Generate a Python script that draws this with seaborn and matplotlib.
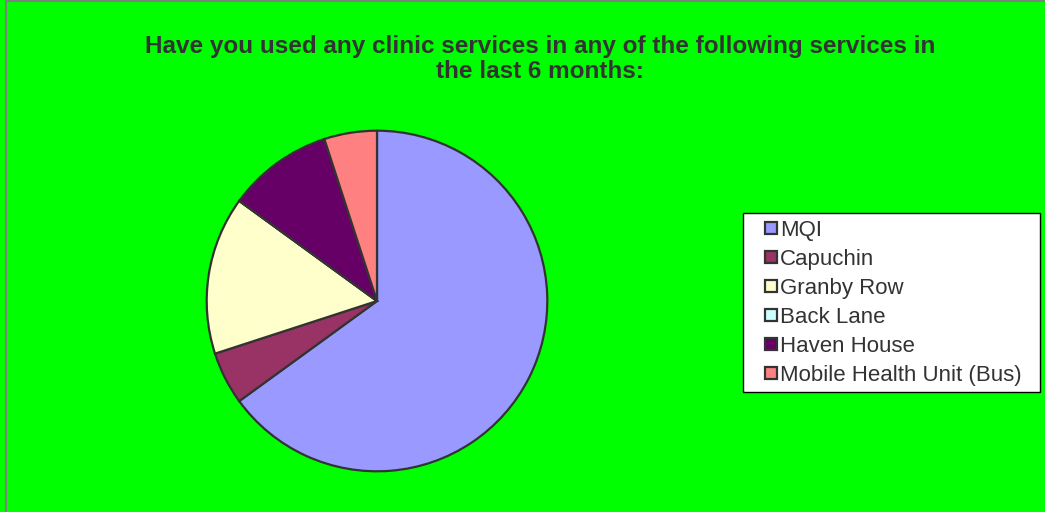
import matplotlib.pyplot as plt
import seaborn as sns
from matplotlib.lines import Line2D
from matplotlib.patches import Rectangle

# data
services = ["MQI", "Capuchin", "Granby Row", "Back Lane", "Haven House", "Mobile Health Unit (Bus)"]
shares = [65, 5, 15, 0, 10, 5]
colors = ["#9999FF", "#993366", "#FFFFCC", "#CCFFFF", "#660066", "#FF8080"]

sns.set_theme(style="white")
plt.rcParams['font.family'] = ['Liberation Sans', 'DejaVu Sans']

fig = plt.figure(figsize=(10.45, 5.12), dpi=100, facecolor="#00FF00")
# frame line on left / top edges
fig.patches.append(Rectangle((6 / 1045, -0.01), 1.1, 1.0 - 1 / 512 + 0.01, transform=fig.transFigure,
                             fill=False, edgecolor="#808080", linewidth=1.5, zorder=0))

ax = fig.add_axes([205 / 1045, 39 / 512, 344 / 1045, 344 / 512])
ax.set_facecolor("none")
ax.pie(shares, colors=sns.color_palette(colors), startangle=90, counterclock=False,
       wedgeprops=dict(edgecolor="#333333", linewidth=1.6))
ax.set_xlim(-1.01, 1.01)
ax.set_ylim(-1.01, 1.01)
ax.set_aspect("equal")
ax.axis("off")

fig.text(540 / 1045, 1 - 59 / 512,
         "Have you used any clinic services in any of the following services in\nthe last 6 months:",
         ha="center", va="center", fontsize=17.5, fontweight="bold", color="#333333", linespacing=1.15)

handles = [Line2D([], [], linestyle="none", marker="s", markersize=8.5, markerfacecolor=c,
                  markeredgecolor="#333333", markeredgewidth=1.6) for c in colors]
leg = fig.legend(handles, services, loc="upper left", mode="expand",
                 bbox_to_anchor=(743 / 1045, 1 - 390 / 512, 297 / 1045, 177 / 512),
                 fontsize=16, frameon=True, fancybox=False, handlelength=1.9,
                 handletextpad=-0.52, labelspacing=0.36, borderpad=0.3, borderaxespad=0)
leg.get_frame().set_edgecolor("#000000")
leg.get_frame().set_linewidth(1.0)
leg.get_frame().set_facecolor("white")
leg.get_frame().set_alpha(1)
for t in leg.get_texts():
    t.set_color("#333333")

plt.savefig("out.png", dpi=100, facecolor=fig.get_facecolor())
